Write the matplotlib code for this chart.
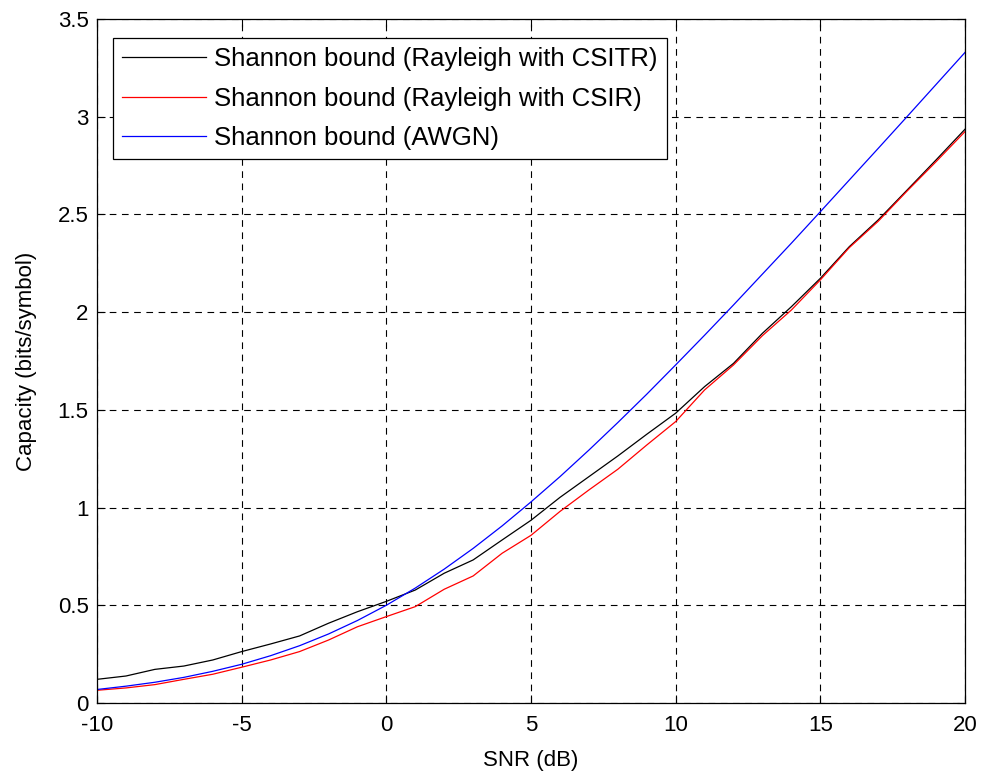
import numpy as np
import matplotlib
matplotlib.use("Agg")
import matplotlib.pyplot as plt

plt.rcParams["font.family"] = ["Liberation Sans", "DejaVu Sans"]
plt.rcParams["axes.unicode_minus"] = False

# SNR grid (dB) and capacities (bits/symbol)
snr_db = list(range(-10, 21))
cap_csitr = [0.121, 0.138, 0.172, 0.189, 0.220, 0.263, 0.302, 0.343, 0.408, 0.467,
             0.520, 0.578, 0.664, 0.732, 0.834, 0.935, 1.052, 1.158, 1.264, 1.375,
             1.483, 1.619, 1.738, 1.892, 2.028, 2.173, 2.335, 2.472, 2.625, 2.779,
             2.936]
cap_csir = [0.065, 0.077, 0.094, 0.121, 0.147, 0.183, 0.220, 0.263, 0.322, 0.390,
            0.442, 0.493, 0.582, 0.650, 0.766, 0.858, 0.980, 1.090, 1.196, 1.320,
            1.440, 1.602, 1.730, 1.880, 2.011, 2.165, 2.330, 2.465, 2.620, 2.770,
            2.924]
cap_awgn = [0.069, 0.086, 0.106, 0.131, 0.162, 0.198, 0.242, 0.293, 0.353, 0.422,
            0.500, 0.588, 0.685, 0.791, 0.906, 1.029, 1.158, 1.294, 1.435, 1.580,
            1.730, 1.882, 2.037, 2.195, 2.353, 2.514, 2.676, 2.838, 3.001, 3.165,
            3.329]
labels = ["Shannon bound (Rayleigh with CSITR)",
          "Shannon bound (Rayleigh with CSIR)",
          "Shannon bound (AWGN)"]

fig = plt.figure(figsize=(9.83, 7.76), dpi=100)
ax = fig.add_axes([0.0987, 0.0941, 0.9817 - 0.0987, 0.9755 - 0.0941])

ax.plot(snr_db, cap_csitr, color="black", lw=0.9, label=labels[0])
ax.plot(snr_db, cap_csir, color="#ff0000", lw=0.9, label=labels[1])
ax.plot(snr_db, cap_awgn, color="#0000ff", lw=0.9, label=labels[2])

ax.set_xlim(-10, 20)
ax.set_ylim(0, 3.5)
ax.set_xticks(np.arange(-10, 21, 5))
ax.set_yticks(np.arange(0, 3.51, 0.5))
ax.set_yticklabels(["0", "0.5", "1", "1.5", "2", "2.5", "3", "3.5"])
ax.tick_params(direction="in", top=True, right=True, labelsize=16, length=6,
               width=0.8)
ax.tick_params(axis="x", pad=9)
ax.tick_params(axis="y", pad=6)
for s in ax.spines.values():
    s.set_linewidth(0.9)
ax.grid(True, color="black", ls=(0, (6, 5)), lw=0.8)

ax.set_xlabel("SNR (dB)", fontsize=16, labelpad=10)
ax.set_ylabel("Capacity (bits/symbol)", fontsize=16, labelpad=15)

leg = ax.legend(loc="upper left", bbox_to_anchor=(0.018, 0.972), fontsize=18.5,
                fancybox=False, framealpha=1, edgecolor="black",
                handlelength=3.3, handletextpad=0.3, borderpad=0.35,
                labelspacing=0.6, borderaxespad=0)
leg.get_frame().set_linewidth(0.9)

fig.savefig("out.png", dpi=100)
